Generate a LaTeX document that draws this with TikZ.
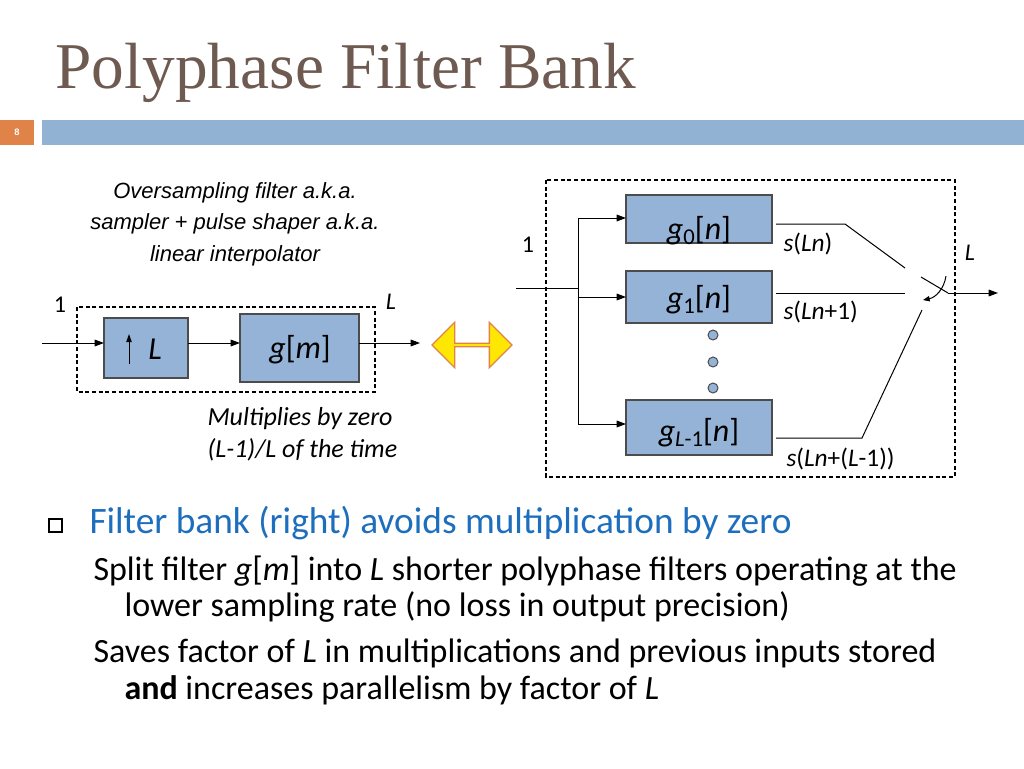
\documentclass[tikz,border=0pt]{standalone}
\usepackage{fontspec}
\setmainfont{Carlito}
\newfontfamily\titlefont{Liberation Serif}
\newfontfamily\arialfont{Liberation Sans}
\usetikzlibrary{arrows.meta,shapes.arrows}
\definecolor{blockblue}{RGB}{149,179,215}
\definecolor{barblue}{RGB}{145,178,210}
\definecolor{numorange}{RGB}{224,131,72}
\definecolor{titlebrown}{RGB}{110,90,80}
\definecolor{textblue}{RGB}{30,110,190}
\tikzset{every picture/.style={line width=0.75pt},
  filterbox/.style={draw=black!70,fill=blockblue,line width=1pt},
  sig/.style={-{Triangle[length=7pt,width=5pt]}},
  frame/.style={dash pattern=on 3pt off 2pt,line width=0.8pt}}

\begin{document}
\begin{tikzpicture}[x=0.75pt,y=0.75pt,yscale=-1,xscale=1]
		\useasboundingbox (0,0) rectangle (1024,768);
		
		%Title and bar
		\draw (55,73) node [anchor=west,inner sep=0pt,text=titlebrown] (title) {\titlefont\fontsize{49}{55}\selectfont Polyphase Filter Bank};
		\fill [numorange] (0,120) rectangle (34,145);
		\draw (17,132) node [text=white,inner sep=0pt] (pagenum) {\arialfont\fontsize{7}{8}\selectfont\bfseries 8};
		\fill [barblue] (42,120) rectangle (1024,145);
		
		%Left system
		\draw (235,224) node [align=center,inner sep=0.75pt,font=\arialfont\fontsize{16.5}{23.5}\selectfont\itshape] (caption) {Oversampling filter a.k.a.\\ sampler + pulse shaper a.k.a.\\ linear interpolator};
		\draw [frame] (77,307) rectangle (375,392);
		\draw [filterbox] (104,318) rectangle (188,378);
		\draw [filterbox] (240,314) rectangle (359,382);
		\draw [-{Triangle[length=6pt,width=4pt]}] (129,364) -- (129,334);
		\draw (155,349) node [inner sep=0pt] (Lup) {\fontsize{24}{26}\selectfont\textit{L}};
		\draw (300,350) node [inner sep=0pt] (gm) {\fontsize{24}{26}\selectfont\textit{g}[\textit{m}]};
		\coordinate (inL) at (42,343);
		\coordinate (outL) at (420,343);
		\draw [sig] (inL) -- (104,343);
		\draw [sig] (188,343) -- (240,343);
		\draw [sig] (359,343) -- (outL);
		\draw (60,305) node [inner sep=0pt] (oneL) {\fontsize{18}{20}\selectfont 1};
		\draw (391,302) node [inner sep=0pt] (LL) {\fontsize{18}{20}\selectfont\textit{L}};
		\draw (206,434) node [anchor=west,align=left,inner sep=0.75pt,font=\fontsize{19.5}{24}\selectfont\itshape] (note) {Multiplies by zero\\ (L-1)/L of the time};
		
		%Double arrow
		\node [double arrow,draw=numorange,fill=yellow!90!orange,line width=1pt,minimum width=34pt,minimum height=60pt,double arrow head extend=6pt,inner sep=0pt] (equiv) at (472,345) {};
		
		%Right system
		\draw [frame] (546,180) rectangle (955,477);
		\draw [filterbox] (626,195) rectangle (772,243);
		\draw [filterbox] (626,271) rectangle (772,323);
		\draw [filterbox] (626,400) rectangle (772,455);
		\draw (699,231) node [inner sep=0pt] (g0) {\fontsize{24}{26}\selectfont\textit{g}\raisebox{-0.3ex}{\fontsize{17}{18}\selectfont 0}[\textit{n}]};
		\draw (699,300) node [inner sep=0pt] (g1) {\fontsize{24}{26}\selectfont\textit{g}\raisebox{-0.3ex}{\fontsize{17}{18}\selectfont 1}[\textit{n}]};
		\draw (699,433) node [inner sep=0pt] (gL) {\fontsize{24}{26}\selectfont\textit{g}\raisebox{-0.3ex}{\fontsize{17}{18}\selectfont\textit{L}-1}[\textit{n}]};
		\foreach \y in {335,362,388}
			\draw [fill=blockblue,draw=black!70] (713,\y) circle (5);
		\coordinate (inR) at (516,288);
		\draw (inR) -- (578,288);
		\draw (578,218) -- (578,424);
		\draw [sig] (578,218) -- (626,218);
		\draw [sig] (578,297) -- (626,297);
		\draw [sig] (578,424) -- (626,424);
		\draw (528,245) node [inner sep=0pt] (oneR) {\fontsize{18}{20}\selectfont 1};
		\draw (970,253) node [inner sep=0pt] (LR) {\fontsize{18}{20}\selectfont\textit{L}};
		% commutator
		\draw (776,224) -- (845,224) -- (905,268);
		\draw (776,293) -- (905,293);
		\draw (776,438) -- (862,438) -- (922,310);
		\draw (921,277) -- (948,293);
		\coordinate (outR) at (998,293);
		\draw [sig] (948,293) -- (outR);
		\draw [-{Triangle[length=5pt,width=4pt]}] (946,276) to[bend right=35] (923,300);
		\draw (783,244) node [anchor=west,inner sep=0pt] (s0) {\fontsize{19}{21}\selectfont\textit{s}(\textit{Ln})};
		\draw (783,312) node [anchor=west,inner sep=0pt] (s1) {\fontsize{19}{21}\selectfont\textit{s}(\textit{Ln}+1)};
		\draw (786,459) node [anchor=west,inner sep=0pt] (sL) {\fontsize{19}{21}\selectfont\textit{s}(\textit{Ln}+(\textit{L}-1))};
		
		%Bullet text
		\draw [line width=0.8pt] (49,519) rectangle (62,532);
		\draw (89,523) node [anchor=west,inner sep=0pt,text=textblue] (b1) {\fontsize{28}{32}\selectfont Filter bank (right) avoids multiplication by zero};
		\draw (93,571) node [anchor=west,inner sep=0pt] (b2) {\fontsize{25.5}{30}\selectfont Split filter \textit{g}[\textit{m}] into \textit{L} shorter polyphase filters operating at the};
		\draw (124,607) node [anchor=west,inner sep=0pt] (b3) {\fontsize{25.5}{30}\selectfont lower sampling rate (no loss in output precision)};
		\draw (93,653) node [anchor=west,inner sep=0pt] (b4) {\fontsize{25.5}{30}\selectfont Saves factor of \textit{L} in multiplications and previous inputs stored};
		\draw (124,690) node [anchor=west,inner sep=0pt] (b5) {\fontsize{25.5}{30}\selectfont \textbf{and} increases parallelism by factor of \textit{L}};
		
	\end{tikzpicture}
\end{document}
